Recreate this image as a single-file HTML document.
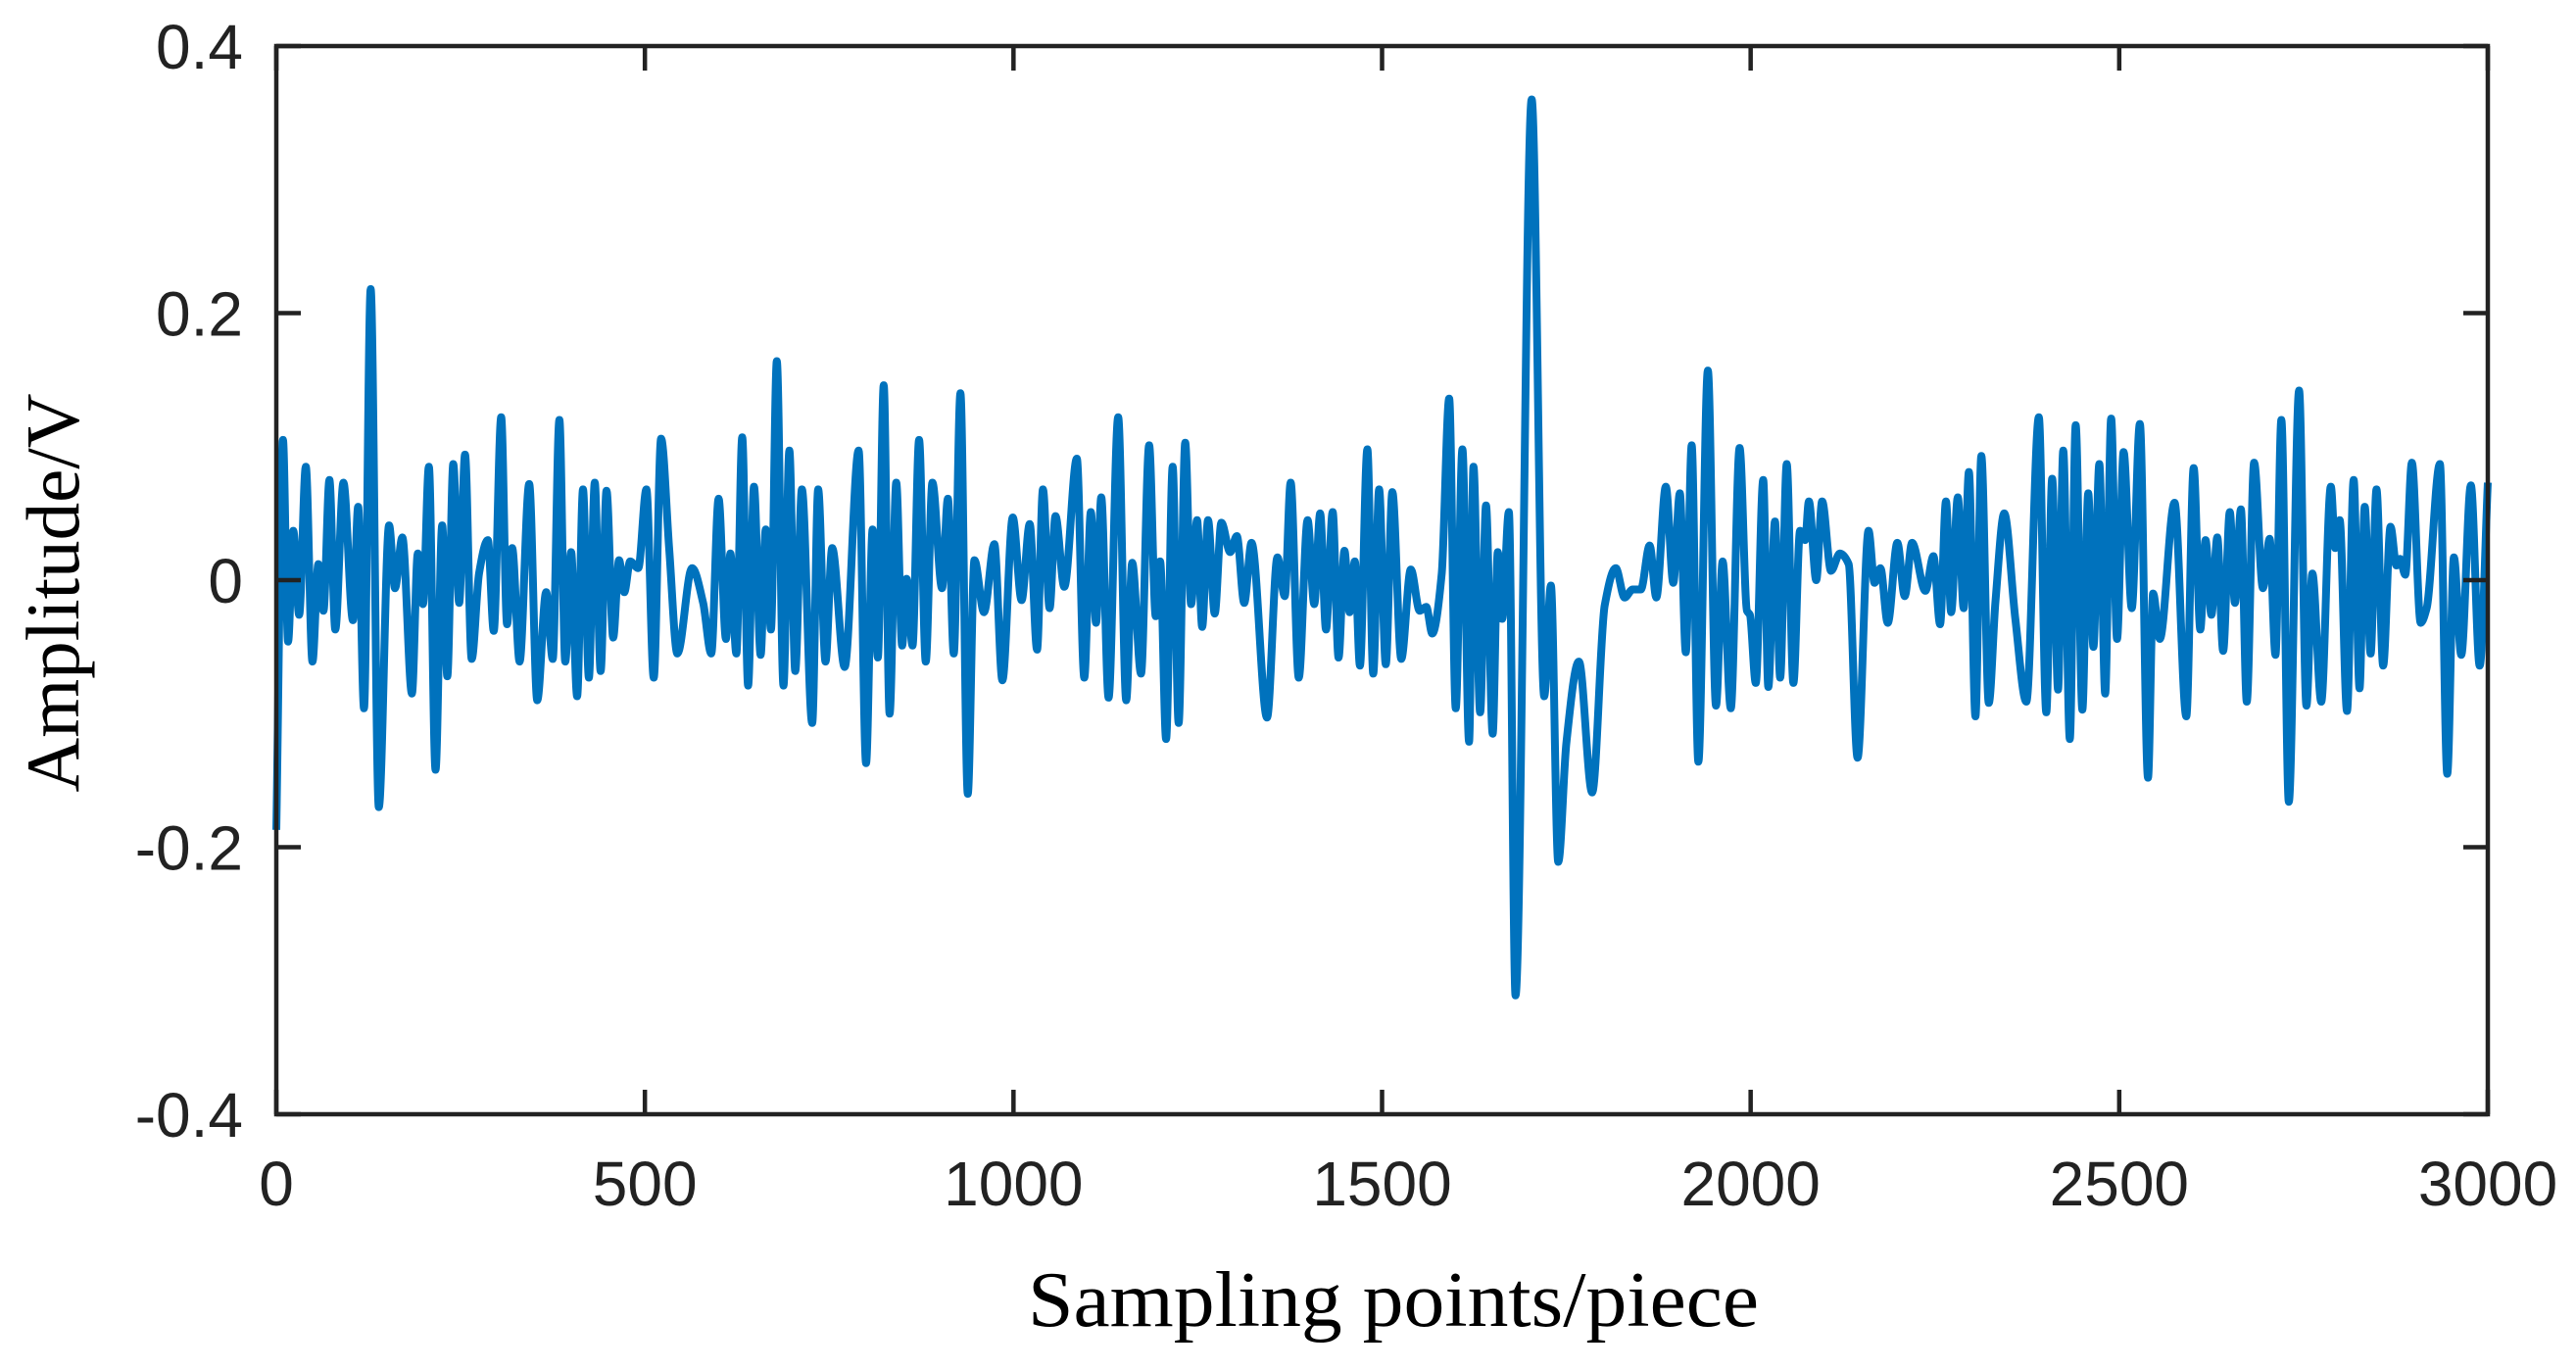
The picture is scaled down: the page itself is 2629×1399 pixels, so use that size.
<!DOCTYPE html>
<html><head><meta charset="utf-8"><style>
html,body{margin:0;padding:0;background:#fff;}
svg{display:block;}
</style></head><body>
<svg id="chart" width="2629" height="1399" viewBox="0 0 2629 1399" xmlns="http://www.w3.org/2000/svg">
<rect x="0" y="0" width="2629" height="1399" fill="#fff"/>
<g id="plot"></g>
<g id="axes"></g>
<text x="1422" y="1353" font-family="Liberation Serif, serif" font-size="80" text-anchor="middle" textLength="746" lengthAdjust="spacingAndGlyphs" fill="#000">Sampling points/piece</text>
<text transform="translate(80,605) rotate(-90)" x="0" y="0" font-family="Liberation Serif, serif" font-size="77" text-anchor="middle" textLength="407" lengthAdjust="spacingAndGlyphs" fill="#000">Amplitude/V</text>
</svg>
<script>
const sampleIdx = [0,9,16,23,31,40,49,57,64,72,80,91,104,111,119,128,139,153,161,171,184,192,199,207,216,225,232,240,248,256,265,275,287,295,305,313,320,330,343,354,366,375,384,392,400,408,416,424,432,440,448,457,465,472,480,491,502,512,522,533,544,564,579,590,600,610,616,624,632,640,648,657,664,671,679,688,696,704,713,727,735,745,754,771,790,800,809,816,824,832,841,849,855,863,872,881,890,903,911,919,928,938,947,960,974,985,999,1011,1022,1032,1040,1049,1057,1069,1086,1096,1105,1112,1119,1129,1142,1153,1161,1173,1184,1193,1199,1207,1216,1224,1233,1241,1249,1256,1264,1273,1282,1294,1303,1313,1323,1344,1358,1368,1376,1387,1399,1408,1416,1424,1433,1441,1449,1456,1463,1470,1480,1488,1496,1505,1514,1526,1539,1551,1560,1568,1581,1591,1600,1609,1618,1624,1633,1641,1650,1657,1663,1672,1681,1703,1720,1729,1739,1750,1767,1785,1802,1817,1829,1840,1851,1863,1872,1885,1895,1904,1912,1920,1929,1942,1953,1962,1973,1985,1995,1999,2007,2017,2024,2033,2040,2049,2058,2067,2074,2079,2089,2097,2109,2121,2133,2145,2160,2168,2176,2186,2199,2209,2219,2237,2248,2257,2265,2272,2281,2289,2296,2305,2313,2323,2332,2344,2359,2374,2391,2401,2409,2417,2424,2433,2441,2450,2458,2465,2473,2481,2489,2497,2506,2517,2528,2539,2546,2555,2575,2591,2601,2610,2617,2625,2633,2641,2650,2657,2665,2673,2683,2695,2704,2712,2720,2730,2744,2754,2762,2774,2787,2793,2799,2809,2818,2826,2833,2841,2849,2858,2868,2876,2881,2888,2897,2909,2917,2935,2945,2954,2964,2977,2989,3000];
const amplitude = [-0.187,0.105,-0.046,0.037,-0.026,0.085,-0.061,0.012,-0.023,0.075,-0.037,0.073,-0.030,0.055,-0.096,0.218,-0.170,0.041,-0.006,0.032,-0.085,0.020,-0.018,0.085,-0.142,0.041,-0.072,0.087,-0.017,0.094,-0.059,0.005,0.030,-0.038,0.122,-0.033,0.024,-0.061,0.072,-0.090,-0.009,-0.059,0.120,-0.061,0.021,-0.087,0.068,-0.073,0.073,-0.068,0.067,-0.043,0.015,-0.009,0.014,0.009,0.068,-0.073,0.106,0.023,-0.055,0.009,-0.017,-0.055,0.061,-0.044,0.020,-0.055,0.107,-0.079,0.070,-0.056,0.038,-0.037,0.164,-0.079,0.097,-0.068,0.068,-0.107,0.068,-0.061,0.024,-0.065,0.097,-0.137,0.038,-0.058,0.146,-0.100,0.073,-0.049,0.001,-0.049,0.105,-0.061,0.073,-0.006,0.061,-0.055,0.140,-0.160,0.015,-0.024,0.027,-0.075,0.047,-0.015,0.042,-0.052,0.068,-0.021,0.048,-0.005,0.091,-0.073,0.051,-0.032,0.062,-0.088,0.122,-0.090,0.013,-0.070,0.101,-0.027,0.014,-0.119,0.085,-0.107,0.103,-0.018,0.045,-0.035,0.045,-0.025,0.043,0.021,0.033,-0.017,0.028,-0.103,0.017,-0.012,0.073,-0.073,0.045,-0.018,0.050,-0.037,0.051,-0.058,0.022,-0.024,0.014,-0.064,0.098,-0.070,0.068,-0.063,0.066,-0.059,0.008,-0.023,-0.020,-0.040,0.005,0.136,-0.096,0.098,-0.121,0.085,-0.099,0.056,-0.115,0.021,-0.029,0.051,-0.311,0.360,-0.087,-0.004,-0.211,-0.122,-0.061,-0.159,-0.019,0.009,-0.013,-0.007,-0.007,0.026,-0.013,0.070,-0.002,0.065,-0.054,0.101,-0.136,0.157,-0.094,0.014,-0.096,0.099,-0.023,-0.026,-0.077,0.075,-0.080,0.044,-0.073,0.087,-0.077,0.037,0.030,0.059,0.000,0.059,0.007,0.020,0.012,-0.133,0.037,-0.002,0.009,-0.032,0.028,-0.012,0.028,-0.008,0.018,-0.033,0.059,-0.024,0.062,-0.021,0.081,-0.102,0.093,-0.092,-0.017,0.050,-0.029,-0.091,0.122,-0.099,0.076,-0.082,0.097,-0.119,0.116,-0.097,0.065,-0.050,0.087,-0.085,0.121,-0.044,0.096,-0.021,0.117,-0.148,-0.010,-0.044,0.058,-0.102,0.084,-0.037,0.030,-0.026,0.032,-0.053,0.051,-0.017,0.053,-0.091,0.088,-0.006,0.031,-0.056,0.120,-0.166,0.142,-0.094,0.005,-0.091,0.070,0.024,0.045,-0.098,0.075,-0.081,0.055,-0.055,0.068,-0.064,0.040,0.011,0.016,0.004,0.088,-0.032,-0.021,0.087,-0.145,0.017,-0.056,0.071,-0.064,0.073];
const xTicks = [0,500,1000,1500,2000,2500,3000];
const xTickLabels = ["0","500","1000","1500","2000","2500","3000"];
const yTicks = [-0.4,-0.2,0,0.2,0.4];
const yTickLabels = ["-0.4","-0.2","0","0.2","0.4"];

const L=282, R=2539, T=47, B=1137;
const xMin=0, xMax=3000, yMin=-0.4, yMax=0.4;
function xs(v){return L+(v-xMin)/(xMax-xMin)*(R-L);}
function ys(v){return B-(v-yMin)/(yMax-yMin)*(B-T);}
const NS='http://www.w3.org/2000/svg';

function monoPath(px,py){
  const n=px.length, d=[], m=[];
  for(let i=0;i<n-1;i++) d.push((py[i+1]-py[i])/(px[i+1]-px[i]));
  m[0]=d[0]; m[n-1]=d[n-2];
  for(let i=1;i<n-1;i++){
    if(d[i-1]*d[i]<=0) m[i]=0;
    else { const h0=px[i]-px[i-1], h1=px[i+1]-px[i];
      const w1=2*h1+h0, w2=h1+2*h0; m[i]=(w1+w2)/(w1/d[i-1]+w2/d[i]); }
  }
  let s='M'+px[0].toFixed(1)+' '+py[0].toFixed(1);
  for(let i=0;i<n-1;i++){
    const h=px[i+1]-px[i];
    s+=' C'+(px[i]+h/3).toFixed(1)+' '+(py[i]+m[i]*h/3).toFixed(1)+' '+(px[i+1]-h/3).toFixed(1)+' '+(py[i+1]-m[i+1]*h/3).toFixed(1)+' '+px[i+1].toFixed(1)+' '+py[i+1].toFixed(1);
  }
  return s;
}
const plot=document.getElementById('plot');
const line=document.createElementNS(NS,'path');


line.setAttribute('d',monoPath(sampleIdx.map(xs),amplitude.map(ys)));
line.setAttribute('fill','none');
line.setAttribute('stroke','#0072BD');
line.setAttribute('stroke-width','8');
line.setAttribute('stroke-linejoin','round');
plot.appendChild(line);

const axes=document.getElementById('axes');
const box=document.createElementNS(NS,'rect');


box.setAttribute('x',L);box.setAttribute('y',T);box.setAttribute('width',R-L);box.setAttribute('height',B-T);
box.setAttribute('fill','none');box.setAttribute('stroke','#222');box.setAttribute('stroke-width','4.5');
axes.appendChild(box);
const TL=25;
xTicks.forEach((v,i)=>{
  const x=xs(v);
  const t=document.createElementNS(NS,'path');
  
  
  t.setAttribute('d','M'+x+' '+B+' V'+(B-TL)+' M'+x+' '+T+' V'+(T+TL));
  t.setAttribute('stroke','#222');t.setAttribute('stroke-width','4.5');
  axes.appendChild(t);
  const lb=document.createElementNS(NS,'text');
  
  
  lb.setAttribute('x',x);lb.setAttribute('y',1230);
  lb.setAttribute('text-anchor','middle');
  lb.setAttribute('font-family','Liberation Sans, Arial, sans-serif');
  lb.setAttribute('font-size','64');lb.setAttribute('fill','#222');
  lb.textContent=xTickLabels[i];
  axes.appendChild(lb);
});
yTicks.forEach((v,i)=>{
  const y=ys(v);
  const t=document.createElementNS(NS,'path');
  
  
  t.setAttribute('d','M'+L+' '+y+' H'+(L+TL)+' M'+R+' '+y+' H'+(R-TL));
  t.setAttribute('stroke','#222');t.setAttribute('stroke-width','4.5');
  axes.appendChild(t);
  const lb=document.createElementNS(NS,'text');
  
  
  lb.setAttribute('x',248);lb.setAttribute('y',y+23);
  lb.setAttribute('text-anchor','end');
  lb.setAttribute('font-family','Liberation Sans, Arial, sans-serif');
  lb.setAttribute('font-size','64');lb.setAttribute('fill','#222');
  lb.textContent=yTickLabels[i];
  axes.appendChild(lb);
});
</script>
</body></html>
